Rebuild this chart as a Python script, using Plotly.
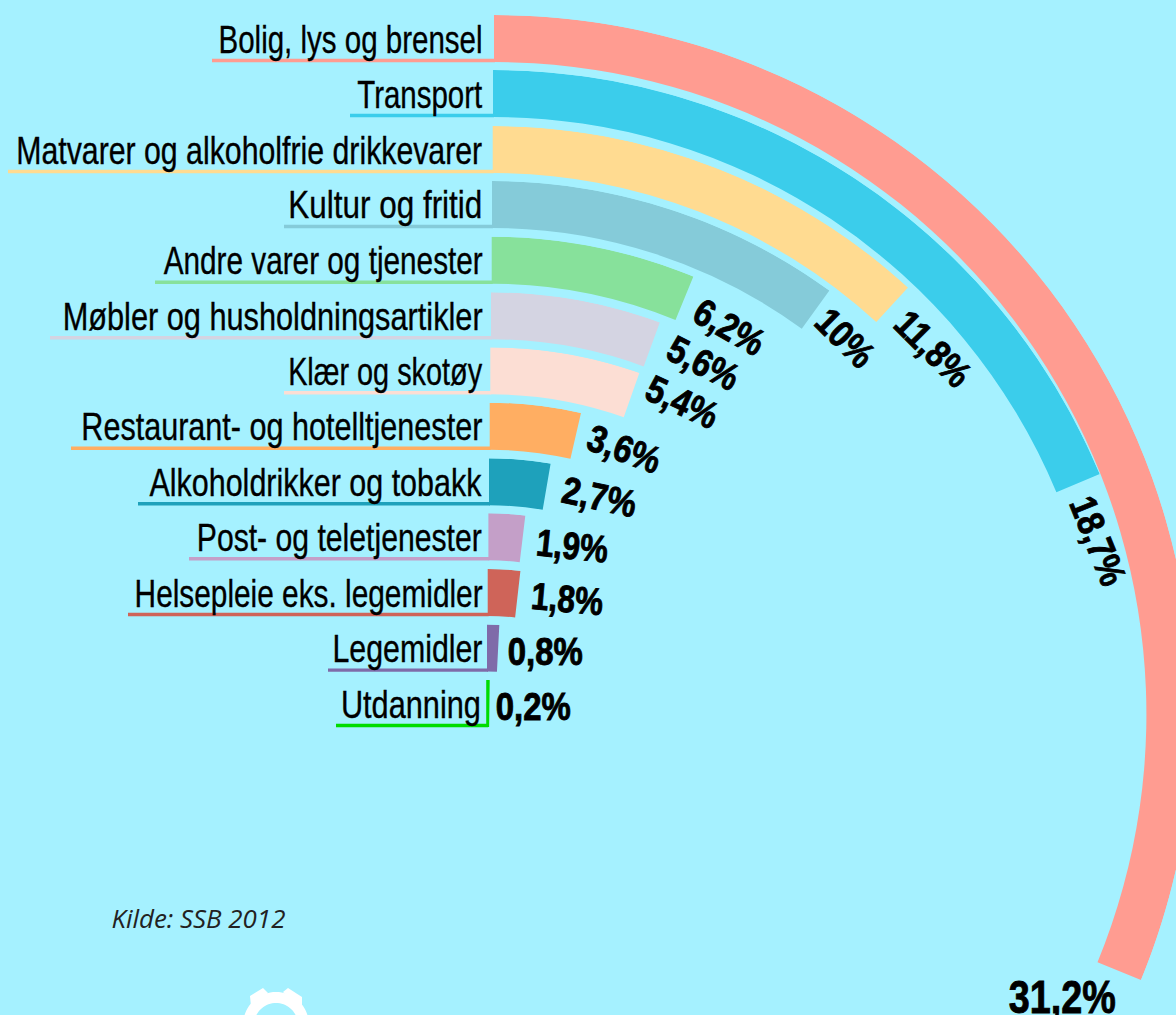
import json
import math
import plotly.graph_objects as go

# ---- data ----
categories = ["Bolig, lys og brensel", "Transport", "Matvarer og alkoholfrie drikkevarer",
              "Kultur og fritid", "Andre varer og tjenester", "Møbler og husholdningsartikler",
              "Klær og skotøy", "Restaurant- og hotelltjenester", "Alkoholdrikker og tobakk",
              "Post- og teletjenester", "Helsepleie eks. legemidler", "Legemidler", "Utdanning"]
shares = [31.2, 18.7, 11.8, 10, 6.2, 5.6, 5.4, 3.6, 2.7, 1.9, 1.8, 0.8, 0.2]
share_labels = ["31,2%", "18,7%", "11,8%", "10%", "6,2%", "5,6%", "5,4%", "3,6%", "2,7%", "1,9%", "1,8%", "0,8%", "0,2%"]
colors = ["#FF9C91", "#3BCDEB", "#FFDB91", "#85CBD9", "#87E19B", "#D4D4E2", "#FCDED4",
          "#FFAE62", "#1EA1BB", "#C49FC8", "#CF6459", "#7F6BA9", "#00DC00"]

# ---- layout (pixels on the page) ----
W, H = 1200, 1015
BG = "#A5F1FF"
FONT = "Liberation Sans, Arial, sans-serif"
BAND = 47
tops = [15, 70, 126, 181, 236.7, 292.3, 347.3, 402.7, 458.3, 513.3, 569, 624.6, 680]
starts = [494, 493, 492.7, 492, 491.7, 491, 490.3, 489.7, 489, 488.4, 487.7, 487, 487.2]
radii = [699.4, 657.6, 615, 574, 531, 490, 448, 407, 365, 310, 290, 245, 200]
underline_left = [212, 350, 8, 284, 155, 50, 284, 71, 138, 189, 128, 328, 336]
label_left = [218, 357, 16, 288, 163, 62, 288, 81, 150, 197, 134, 332, 341]
label_right = [482] * 12 + [481]
value_pos = [(1062, 997, 0), (1098, 541, 68), (933, 349, 45), (845, 338, 45), (729, 327, 30),
             (703, 363, 27), (682, 402, 25), (624, 449, 20), (599, 497, 12), (572, 546, 6),
             (567, 599, 5), (545, 652, 0), (533, 707, 0)]
value_size = [46] + [38] * 12
value_width = [107, 92, 90, 66, 75, 75, 75, 75, 75, 72, 72, 75, 75]


def px(x):
    return x / W


def py(y):
    return 1 - y / H


fig = go.Figure()
polars = {}
for i, share in enumerate(shares):
    sweep = share * 3.6
    name = "polar" if i == 0 else f"polar{i + 1}"
    r_out = radii[i]
    fig.add_trace(go.Barpolar(
        subplot=name, r=[BAND], base=[r_out - BAND], theta=[sweep / 2], width=[sweep],
        marker=dict(color=colors[i], line=dict(width=0)), hoverinfo="skip", showlegend=False,
    ))
    a0 = min(0, 90 - sweep - 1)
    a1 = 91
    cx, cy = starts[i], tops[i] + r_out
    xlo = math.cos(math.radians(a1))
    ylo = math.sin(math.radians(a0))
    polars[name] = dict(
        bgcolor="rgba(0,0,0,0)",
        domain=dict(x=[px(cx + xlo * r_out), px(cx + r_out)], y=[py(cy - ylo * r_out), py(tops[i])]),
        sector=[a0, a1],
        radialaxis=dict(visible=False, range=[0, r_out]),
        angularaxis=dict(visible=False, rotation=90, direction="clockwise", thetaunit="degrees"),
    )

shapes = []
for i, left in enumerate(underline_left):
    y = tops[i] + 45.5
    shapes.append(dict(type="line", xref="paper", yref="paper", x0=px(left), x1=px(starts[i] + 1),
                       y0=py(y), y1=py(y), line=dict(color=colors[i], width=3.4)))
# Utdanning's thin upright stroke
shapes.append(dict(type="line", xref="paper", yref="paper", x0=px(487.2), x1=px(487.2),
                   y0=py(tops[12]), y1=py(tops[12] + 46), line=dict(color=colors[12], width=2)))

# white gear at the bottom edge
gx, gy, ro, ri = 276, 1025, 33, 22
pts_o = [(gx + ro * math.cos(math.radians(a)), gy + ro * math.sin(math.radians(a))) for a in range(0, 360, 5)]
pts_i = [(gx + ri * math.cos(math.radians(a)), gy + ri * math.sin(math.radians(a))) for a in range(360, 0, -5)]


def poly(p):
    return "M " + " L ".join(f"{px(x):.5f},{py(y):.5f}" for x, y in p) + " Z"


shapes.append(dict(type="path", xref="paper", yref="paper", fillcolor="white", line=dict(width=0),
                   path=poly(pts_o + [pts_o[0]] + [pts_i[0]] + pts_i)))
for tooth in ([(250, 996), (263, 988), (268, 993), (262, 1000), (251, 1006)],
              [(283, 992), (288, 988), (302, 997), (302, 1006), (290, 1000)]):
    shapes.append(dict(type="path", xref="paper", yref="paper", fillcolor="white", line=dict(width=0), path=poly(tooth)))

annotations = []
fit_widths = []
strokes = []
for i, name in enumerate(categories):
    annotations.append(dict(text=name, xref="paper", yref="paper",
                            x=px((label_left[i] + label_right[i]) / 2), y=py(tops[i] + 24),
                            xanchor="center", yanchor="middle", showarrow=False,
                            font=dict(family=FONT, size=39, color="#000000")))
    fit_widths.append(label_right[i] - label_left[i])
    strokes.append(0.35)
for lab, (x, y, ang), size, wd in zip(share_labels, value_pos, value_size, value_width):
    annotations.append(dict(text=lab, xref="paper", yref="paper", x=px(x), y=py(y),
                            xanchor="center", yanchor="middle", showarrow=False, textangle=ang,
                            font=dict(family=FONT, size=size, color="#000000", weight="bold")))
    fit_widths.append(wd)
    strokes.append(0.9)
annotations.append(dict(text="Kilde: SSB 2012", xref="paper", yref="paper", x=px(198), y=py(918),
                        xanchor="center", yanchor="middle", showarrow=False,
                        font=dict(family="Open Sans, Noto Sans, sans-serif", size=26, color="#222222", style="italic")))
fit_widths.append(174)
strokes.append(0)

fig.update_layout(
    width=W, height=H, autosize=False,
    margin=dict(l=0, r=0, t=0, b=0, pad=0),
    paper_bgcolor=BG, plot_bgcolor=BG,
    showlegend=False,
    shapes=shapes,
    annotations=annotations,
    **polars,
)

post = """
document.documentElement.style.overflow='hidden';
document.body.style.overflow='hidden';
document.body.style.margin='0';
document.documentElement.style.background='%s';
var widths = %s;
var strokes = %s;
document.querySelectorAll('.annotation-text').forEach(function(t, i) {
  t.setAttribute('textLength', widths[i]);
  t.setAttribute('lengthAdjust', 'spacingAndGlyphs');
  if (strokes[i] > 0) { t.style.stroke = '#000'; t.style.strokeWidth = strokes[i] + 'px'; }
});
""" % (BG, json.dumps(fit_widths), json.dumps(strokes))

fig.write_html("out.html", config=dict(displayModeBar=False), post_script=post)
